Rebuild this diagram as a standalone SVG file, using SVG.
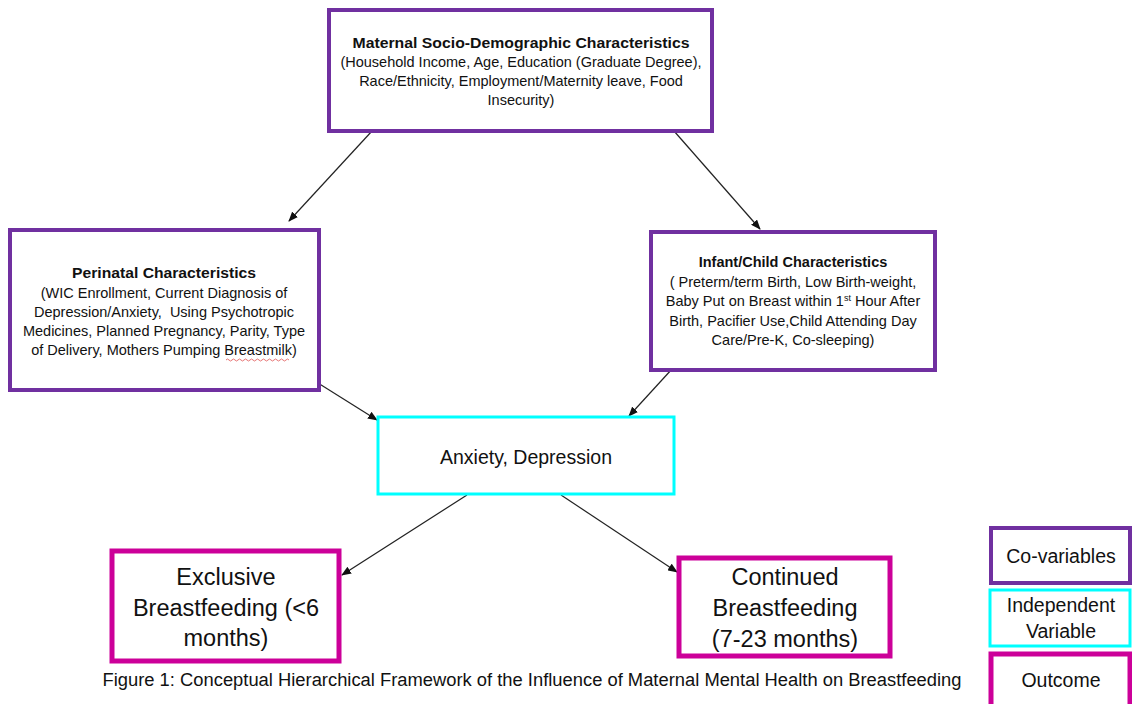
<svg xmlns="http://www.w3.org/2000/svg" width="1132" height="704" viewBox="0 0 1132 704">
<style>
.t{font-family:"Liberation Sans",Arial,sans-serif;fill:#111;text-anchor:middle}
.s{font-size:14.5px}
.b{font-weight:bold}
.big{font-size:23.5px}
.lg{font-size:19.5px}
.cov{fill:#fff;stroke:#7030A0;stroke-width:4}
.ind{fill:#fff;stroke:#00FFFF;stroke-width:3}
.out{fill:#fff;stroke:#CC0099;stroke-width:5}
.c{stroke:#222;stroke-width:1.2;fill:none;marker-end:url(#ah)}
</style>
<defs>
<marker id="ah" markerWidth="10" markerHeight="8" refX="9" refY="4" orient="auto" markerUnits="userSpaceOnUse">
<path d="M0,0 L10,4 L0,8 Z" fill="#111"/>
</marker>
</defs>
<rect width="1132" height="704" fill="#fff"/>
<g id="connectors">
<line class="c" x1="372" y1="131" x2="289" y2="221"/>
<line class="c" x1="674" y1="131" x2="760" y2="229"/>
<line class="c" x1="318" y1="383" x2="377" y2="420"/>
<line class="c" x1="672" y1="369" x2="629" y2="416"/>
<line class="c" x1="467" y1="495" x2="342" y2="575"/>
<line class="c" x1="561" y1="495" x2="677" y2="572"/>
</g>
<g id="maternal">
<rect class="cov" x="329" y="10" width="383" height="121"/>
<text class="t s b" x="521" y="48" textLength="337" lengthAdjust="spacingAndGlyphs">Maternal Socio-Demographic Characteristics</text>
<text class="t s" x="521" y="67">(Household Income, Age, Education (Graduate Degree),</text>
<text class="t s" x="521" y="86">Race/Ethnicity, Employment/Maternity leave, Food</text>
<text class="t s" x="521" y="105">Insecurity)</text>
</g>
<g id="perinatal">
<rect class="cov" x="10" y="230" width="309" height="160"/>
<text class="t s b" x="164" y="278" textLength="184" lengthAdjust="spacingAndGlyphs">Perinatal Characteristics</text>
<text class="t s" x="164" y="298">(WIC Enrollment, Current Diagnosis of</text>
<text class="t s" x="164" y="317" xml:space="preserve">Depression/Anxiety,  Using Psychotropic</text>
<text class="t s" x="164" y="336">Medicines, Planned Pregnancy, Parity, Type</text>
<text class="t s" x="164" y="355">of Delivery, Mothers Pumping Breastmilk)</text>
<path d="M226,360 q1.5,-2 3,0 t3,0 t3,0 t3,0 t3,0 t3,0 t3,0 t3,0 t3,0 t3,0 t3,0 t3,0 t3,0 t3,0 t3,0 t3,0 t3,0 t3,0 t3,0 t3,0 t3,0" fill="none" stroke="#e05050" stroke-width="0.8"/>
</g>
<g id="infant">
<rect class="cov" x="651" y="232" width="284" height="138"/>
<text class="t s b" x="793" y="267">Infant/Child Characteristics</text>
<text class="t s" x="793" y="287">( Preterm/term Birth, Low Birth-weight,</text>
<text class="t s" x="793" y="306">Baby Put on Breast within 1<tspan font-size="9" dy="-5">st</tspan><tspan dy="5"> Hour After</tspan></text>
<text class="t s" x="793" y="326">Birth, Pacifier Use,Child Attending Day</text>
<text class="t s" x="793" y="345">Care/Pre-K, Co-sleeping)</text>
</g>
<g id="anxiety">
<rect class="ind" x="378" y="417" width="296" height="77"/>
<text class="t" x="526" y="464" font-size="19.5">Anxiety, Depression</text>
</g>
<g id="exclusive">
<rect class="out" x="112" y="551" width="227" height="110"/>
<text class="t big" x="226" y="585">Exclusive</text>
<text class="t big" x="226" y="616">Breastfeeding (&lt;6</text>
<text class="t big" x="226" y="646">months)</text>
</g>
<g id="continued">
<rect class="out" x="679" y="558" width="211" height="98"/>
<text class="t big" x="785" y="585">Continued</text>
<text class="t big" x="785" y="616">Breastfeeding</text>
<text class="t big" x="785" y="647">(7-23 months)</text>
</g>
<g id="caption">
<text class="t" x="532" y="686" font-size="18" textLength="859" lengthAdjust="spacingAndGlyphs">Figure 1: Conceptual Hierarchical Framework of the Influence of Maternal Mental Health on Breastfeeding</text>
</g>
<g id="legend-covariables">
<rect class="cov" x="991" y="528" width="139" height="55"/>
<text class="t lg" x="1061" y="563">Co-variables</text>
</g>
<g id="legend-independent">
<rect class="ind" x="990" y="590" width="140" height="56"/>
<text class="t lg" x="1061" y="612">Independent</text>
<text class="t lg" x="1061" y="638">Variable</text>
</g>
<g id="legend-outcome">
<rect class="out" x="991" y="654" width="139" height="56"/>
<text class="t lg" x="1061" y="687">Outcome</text>
</g>
</svg>
